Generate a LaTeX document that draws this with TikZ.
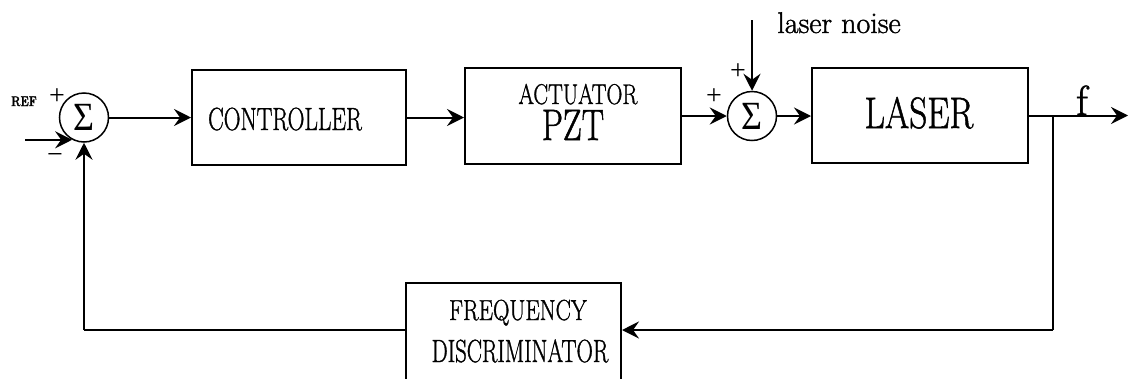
\documentclass[tikz,border=0pt]{standalone}
\usepackage{fontspec}
\newfontfamily\sigf{Liberation Serif}
\newfontfamily\hv{Latin Modern Roman}[FakeBold=1.3]
\usepackage{graphicx}
\usetikzlibrary{arrows.meta}
\newcommand{\fs}[1]{\fontsize{#1}{#1}\selectfont}
\newcommand{\cnd}[2]{\scalebox{#1}[1]{#2}}
\begin{document}
\begin{tikzpicture}[x=1pt,y=-1pt,
  blk/.style={draw, line width=2pt, inner sep=0pt},
  sumc/.style={circle, draw, line width=1.5pt, minimum size=49pt, inner sep=0pt},
  wire/.style={line width=2pt},
  arr/.style={wire, -{Stealth[length=17pt,width=17pt,inset=6pt]}},
  lbl/.style={inner sep=0pt, anchor=base, font=\hv},
  sgn/.style={inner sep=0pt}
]
\useasboundingbox (0,0) rectangle (1130,378);
\clip (0,0) rectangle (1130,378);

% blocks
\node[sumc] (sum1) at (84,117.5) {\sigf\fs{40}\cnd{0.9}{Σ}};
\node[blk, minimum width=214pt, minimum height=95pt] (ctrl) at (299,117.5) {};
\node[blk, minimum width=216pt, minimum height=96pt] (act) at (573,116) {};
\node[sumc] (sum2) at (752,116) {\sigf\fs{40}\cnd{0.9}{Σ}};
\node[blk, minimum width=216pt, minimum height=95pt] (laser) at (920,115.5) {};
\node[blk, minimum width=215pt, minimum height=140pt] (freq) at (513.5,353) {};

% texts
\node[lbl] (tctrl) at (285,130) {\fs{32}\cnd{0.73}{CONTROLLER}};
\node[lbl] (tact) at (578,104) {\fs{28.5}\cnd{0.775}{ACTUATOR}};
\node[lbl] (tpzt) at (573,140) {\fs{44}\cnd{0.76}{PZT}};
\node[lbl] (tlaser) at (919,128) {\fs{44}\cnd{0.80}{LASER}};
\node[lbl] (tfreq) at (518,320) {\fs{29}\cnd{0.79}{FREQUENCY}};
\node[lbl] (tdisc) at (520,362) {\fs{32}\cnd{0.71}{DISCRIMINATOR}};
\node[lbl] (tnoise) at (839,33) {\fs{30}laser noise};
\node[lbl] (tf) at (1082,115) {\fs{42}f};
\node[lbl] (tref) at (24,106) {\fs{14}\cnd{0.8}{\bfseries REF}};
\node[sgn] (p1) at (57,97) {\sigf\fs{28}+};
\node[sgn] (m1) at (55,158) {\sigf\fs{28}−};
\node[sgn] (p2) at (714,97) {\sigf\fs{28}+};
\node[sgn] (p3) at (738,72) {\sigf\fs{28}+};

% coordinates
\coordinate (inx) at (25,141);
\coordinate (ln) at (752,20);
\coordinate (out) at (1128,116);
\coordinate (br) at (1053,116);
\coordinate (bot) at (1053,330);
\coordinate (fbl) at (sum1.south |- bot);

% connectors
\draw[arr] (sum1.-118 -| inx) -- (sum1.-118);
\draw[arr] (sum1.east) -- (sum1.east -| ctrl.west);
\draw[arr] (ctrl.east) -- (ctrl.east -| act.west);
\draw[arr] (act.east) -- (sum2.west);
\draw[arr] (ln) -- (sum2.north);
\draw[arr] (sum2.east) -- (sum2.east -| laser.west);
\draw[arr] (laser.east) -- (laser.east -| out);
\draw[wire] (br) -- (bot);
\draw[arr] (bot) -- (freq.east |- bot);
\draw[wire] (freq.west |- bot) -- (fbl);
\draw[arr] (fbl) -- (sum1.south);
\end{tikzpicture}
\end{document}
